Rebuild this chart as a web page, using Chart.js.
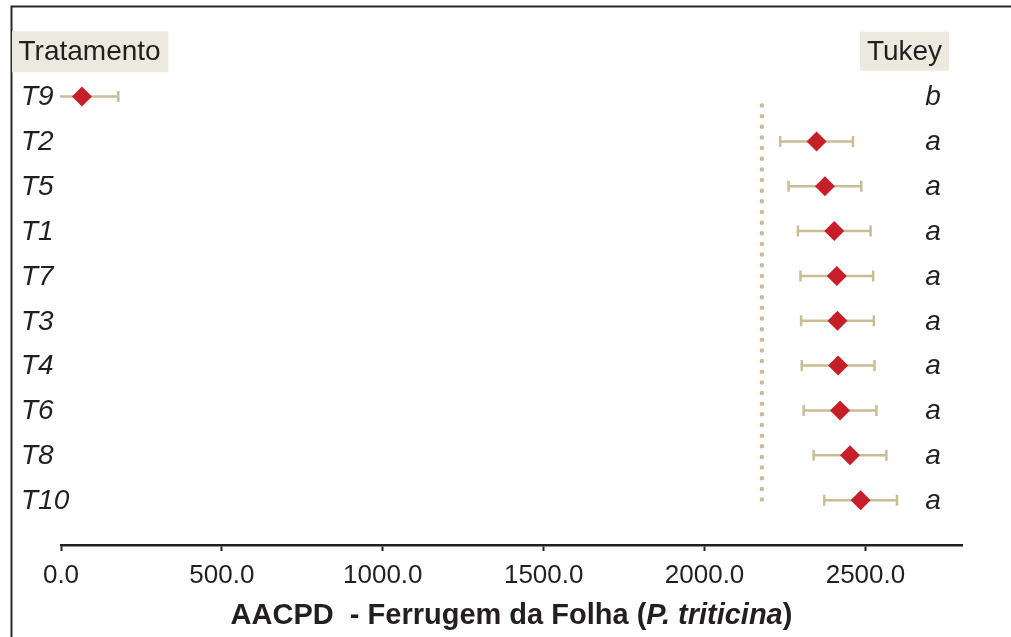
<!DOCTYPE html>
<html>
<head>
<meta charset="utf-8">
<script src="https://cdn.jsdelivr.net/npm/chart.js@4.4.1/dist/chart.umd.min.js"></script>
<style>
  html, body { margin: 0; padding: 0; background: #fff; }
  #wrap { width: 1011px; height: 637px; position: relative; }
</style>
</head>
<body>
<div id="wrap"><canvas id="c" width="1011" height="637"></canvas></div>
<script>
// Treatments, top to bottom
const treatments = ['T9', 'T2', 'T5', 'T1', 'T7', 'T3', 'T4', 'T6', 'T8', 'T10'];
// Mean AACPD per treatment
const means = [65, 2348, 2374, 2403, 2411, 2413, 2415, 2421, 2452, 2485];
// Half-width of the interval around each mean
const errors = [113, 113, 113, 113, 113, 113, 113, 113, 113, 113];
// Tukey grouping letters
const tukey = ['b', 'a', 'a', 'a', 'a', 'a', 'a', 'a', 'a', 'a'];
// X axis tick values
const xTicks = [0, 500, 1000, 1500, 2000, 2500];
// Reference value shown as the dotted vertical line
const refValue = 2178;

const INK = '#231f20';
const FONT = "'Liberation Sans', Arial, Helvetica, sans-serif";

const framePlugin = {
  id: 'frame',
  beforeDraw(chart) {
    const { ctx, width, height } = chart;
    ctx.save();
    ctx.fillStyle = '#fff';
    ctx.fillRect(0, 0, width, height);
    ctx.strokeStyle = '#2a2a2a';
    ctx.lineWidth = 2;
    ctx.beginPath();
    ctx.moveTo(11.5, height);
    ctx.lineTo(11.5, 6.5);
    ctx.lineTo(width, 6.5);
    ctx.stroke();
    ctx.restore();
  }
};

const errorBarPlugin = {
  id: 'errorBars',
  beforeDatasetsDraw(chart) {
    const { ctx, chartArea: a } = chart;
    const x = chart.scales.x, y = chart.scales.y;
    ctx.save();
    ctx.strokeStyle = '#c9bd96';
    ctx.lineWidth = 2.5;
    means.forEach((m, i) => {
      const py = y.getPixelForValue(i + 1);
      const lo = m - errors[i], hi = m + errors[i];
      const x1 = Math.max(x.getPixelForValue(lo), a.left - 1);
      const x2 = x.getPixelForValue(hi);
      ctx.beginPath();
      ctx.moveTo(x1, py); ctx.lineTo(x2, py);
      if (lo >= x.min) { ctx.moveTo(x1, py - 5.5); ctx.lineTo(x1, py + 5.5); }
      ctx.moveTo(x2, py - 5.5); ctx.lineTo(x2, py + 5.5);
      ctx.stroke();
    });
    ctx.restore();
  }
};

const textPlugin = {
  id: 'texts',
  afterDraw(chart) {
    const { ctx, chartArea: a } = chart;
    const y = chart.scales.y;
    ctx.save();
    ctx.textBaseline = 'middle';

    // column headers on row 0
    const hy = y.getPixelForValue(0);
    ctx.font = `28px ${FONT}`;
    const tw = ctx.measureText('Tratamento').width;
    ctx.fillStyle = '#ece9df';
    ctx.fillRect(12, hy - 20.5, tw + 14, 41);
    ctx.fillStyle = INK;
    ctx.textAlign = 'left';
    ctx.fillText('Tratamento', 18.5, hy + 1);

    ctx.font = `28px ${FONT}`;
    ctx.fillStyle = '#ece9df';
    ctx.fillRect(860, hy - 20, 89, 39);
    ctx.fillStyle = INK;
    ctx.textAlign = 'center';
    ctx.fillText('Tukey', 904.5, hy + 1);

    // treatment names on the left
    ctx.font = `italic 28px ${FONT}`;
    ctx.textAlign = 'left';
    treatments.forEach((t, i) => {
      ctx.fillText(t, 21, y.getPixelForValue(i + 1) + 1);
    });

    // Tukey letters
    ctx.textAlign = 'center';
    tukey.forEach((t, i) => {
      ctx.fillText(t, 933, y.getPixelForValue(i + 1) + 1);
    });

    // axis title with italic species name
    const parts = [
      { t: 'AACPD  - Ferrugem da Folha (', f: `bold 29px ${FONT}` },
      { t: 'P. triticina', f: `italic bold 29px ${FONT}` },
      { t: ')', f: `bold 29px ${FONT}` }
    ];
    let total = 0;
    parts.forEach(p => { ctx.font = p.f; p.w = ctx.measureText(p.t).width; total += p.w; });
    let cx = (a.left + a.right) / 2 - total / 2;
    ctx.textAlign = 'left';
    parts.forEach(p => { ctx.font = p.f; ctx.fillText(p.t, cx, 616); cx += p.w; });
    ctx.restore();
  }
};

new Chart(document.getElementById('c').getContext('2d'), {
  type: 'scatter',
  data: {
    datasets: [
      {
        label: 'ref',
        data: [{ x: refValue, y: 1.2 }, { x: refValue, y: 10.02 }],
        showLine: true,
        borderColor: '#c9bc92',
        borderWidth: 4.5,
        borderDash: [0, 10.65],
        borderCapStyle: 'round',
        pointRadius: 0,
        order: 2
      },
      {
        label: 'AACPD',
        data: means.map((m, i) => ({ x: m, y: i + 1 })),
        pointStyle: 'rectRot',
        pointRadius: 10,
        pointBackgroundColor: '#c61f2a',
        pointBorderWidth: 0,
        order: 1
      }
    ]
  },
  options: {
    responsive: false,
    animation: false,
    events: [],
    devicePixelRatio: 1,
    layout: { padding: { left: 22, right: 49, top: 4, bottom: 0 } },
    plugins: { legend: { display: false }, tooltip: { enabled: false } },
    scales: {
      x: {
        type: 'linear',
        min: 0,
        max: 2800,
        afterBuildTicks: s => { s.ticks = xTicks.map(v => ({ value: v })); },
        afterFit: s => { s.height = 92; },
        grid: { drawOnChartArea: false, drawTicks: true, tickLength: 6, tickWidth: 2, tickColor: INK },
        border: { display: true, color: INK, width: 2.5 },
        ticks: {
          callback: v => Number(v).toFixed(1),
          font: { family: FONT, size: 26 },
          color: INK,
          padding: 9,
          maxRotation: 0,
          autoSkip: false
        }
      },
      y: {
        type: 'linear',
        reverse: true,
        min: -0.93,
        max: 11,
        afterBuildTicks: s => { s.ticks = treatments.map((t, i) => ({ value: i + 1 })); },
        afterFit: s => { s.width = 39; },
        grid: { display: false },
        border: { display: false },
        ticks: { display: false }
      }
    }
  },
  plugins: [framePlugin, errorBarPlugin, textPlugin]
});
</script>
</body>
</html>
